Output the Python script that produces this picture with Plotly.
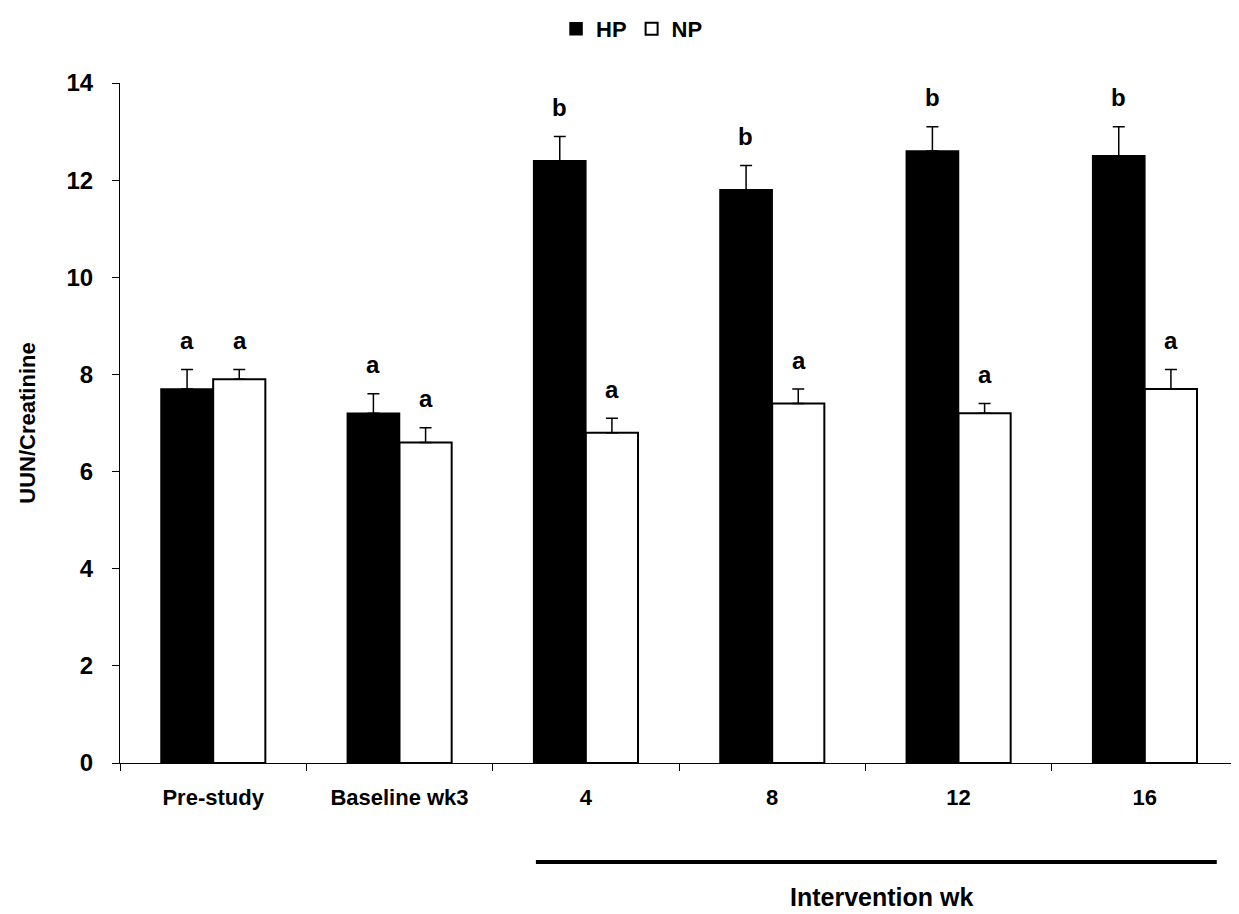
import plotly.graph_objects as go

categories = ["Pre-study", "Baseline wk3", "4", "8", "12", "16"]
hp_values = [7.7, 7.2, 12.4, 11.8, 12.6, 12.5]
hp_errors = [0.4, 0.4, 0.5, 0.5, 0.5, 0.6]
np_values = [7.9, 6.6, 6.8, 7.4, 7.2, 7.7]
np_errors = [0.2, 0.3, 0.3, 0.3, 0.2, 0.4]
hp_letters = ["a", "a", "b", "b", "b", "b"]
np_letters = ["a", "a", "a", "a", "a", "a"]

fam = "Liberation Sans, Arial"

fig = go.Figure()
fig.add_trace(go.Bar(
    name="HP", x=categories, y=hp_values,
    marker=dict(color="black", line=dict(color="black", width=1.5)),
    error_y=dict(type="data", array=hp_errors, arrayminus=[0]*6, symmetric=False,
                 color="black", thickness=1.5, width=6),
))
fig.add_trace(go.Bar(
    name="NP", x=categories, y=np_values,
    marker=dict(color="white", line=dict(color="black", width=2)),
    error_y=dict(type="data", array=np_errors, arrayminus=[0]*6, symmetric=False,
                 color="black", thickness=1.5, width=6),
))

letter_font = dict(family=fam, size=24, color="black", weight="bold")
for i in range(len(categories)):
    fig.add_annotation(x=i, y=hp_values[i] + hp_errors[i], text=hp_letters[i],
                       xref="x", yref="y", showarrow=False, xshift=-26.5, yshift=29,
                       font=letter_font)
    fig.add_annotation(x=i, y=np_values[i] + np_errors[i], text=np_letters[i],
                       xref="x", yref="y", showarrow=False, xshift=26.5, yshift=29,
                       font=letter_font)

fig.add_shape(type="line", xref="paper", yref="paper", x0=0.372, x1=0.981,
              y0=-0.1456, y1=-0.1456, line=dict(color="black", width=4))
fig.add_annotation(x=0.681, y=-0.197, xref="paper", yref="paper", text="Intervention wk",
                   showarrow=False, xanchor="center", yanchor="middle",
                   font=dict(family=fam, size=25, color="black", weight="bold"))

fig.update_layout(
    width=1239, height=914,
    margin=dict(l=112, r=9, t=75, b=159),
    paper_bgcolor="white", plot_bgcolor="white",
    barmode="group", bargap=0.44, bargroupgap=0,
    showlegend=True,
    legend=dict(orientation="h", x=0.458, xanchor="center", y=1.0, yref="container",
                yanchor="top",
                font=dict(family=fam, size=22, color="black", weight="bold"),
                itemwidth=30),
    xaxis=dict(type="category", range=[-0.5, 5.5], showline=True, linecolor="black",
               linewidth=1, ticks="outside",
               tickson="boundaries", ticklen=7, tickcolor="black", tickangle=0,
               ticklabelstandoff=15,
               tickfont=dict(family=fam, size=22, color="black", weight="bold"),
               showgrid=False),
    yaxis=dict(range=[0, 14], dtick=2, showline=True, linecolor="black", linewidth=1,
               ticks="outside", ticklen=7, tickcolor="black", showgrid=False,
               zeroline=False, ticklabelstandoff=14,
               tickfont=dict(family=fam, size=24, color="black", weight="bold"),
               title=dict(text="UUN/Creatinine", standoff=24,
                          font=dict(family=fam, size=22, color="black",
                                    weight="bold"))),
)

fig.write_html("out.html")
